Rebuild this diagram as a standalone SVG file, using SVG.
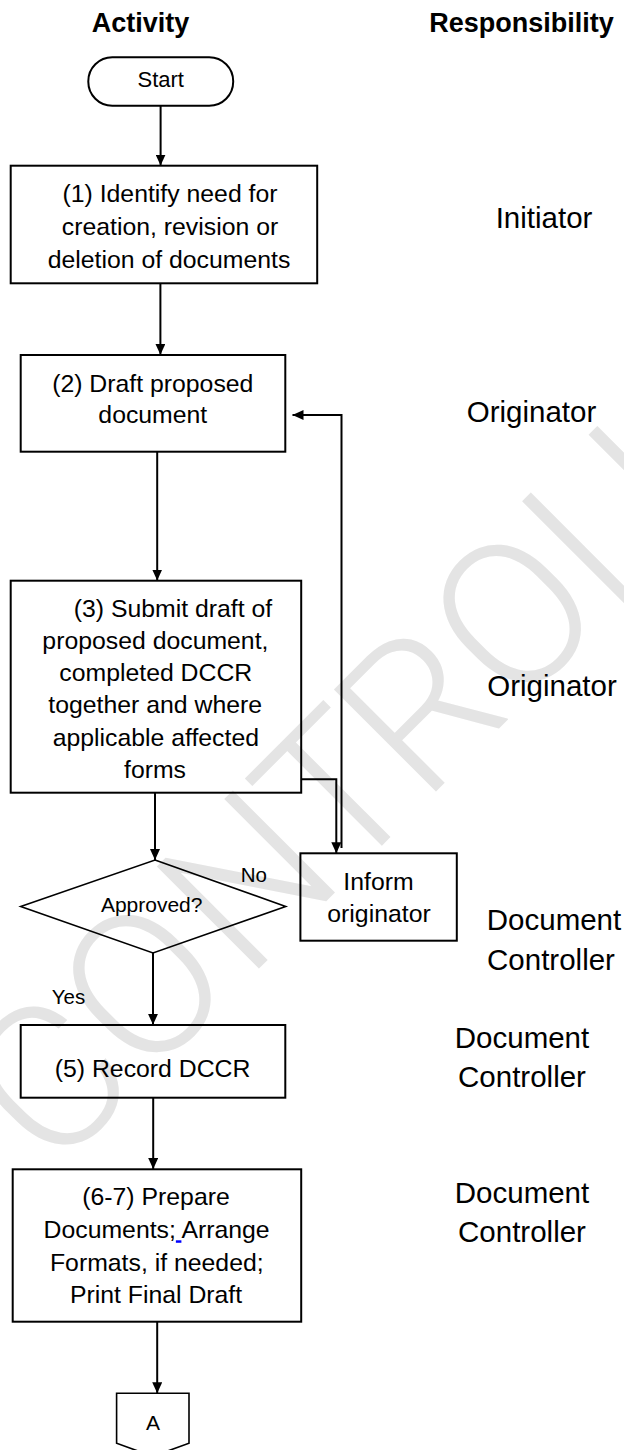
<svg xmlns="http://www.w3.org/2000/svg" width="624" height="1450" viewBox="0 0 624 1450">
<style>
.bx{fill:none;stroke:#000;stroke-width:2}
.t{font-family:"Liberation Sans",Arial,sans-serif;font-size:24.8px;fill:#000;text-anchor:middle}
.r{font-family:"Liberation Sans",Arial,sans-serif;font-size:29.5px;fill:#000;text-anchor:middle}
.h{font-family:"Liberation Sans",Arial,sans-serif;font-size:27px;font-weight:bold;fill:#000;text-anchor:middle}
.s{font-family:"Liberation Sans",Arial,sans-serif;font-size:21px;fill:#000}
.c{fill:none;stroke:#000;stroke-width:2}
.wm{font-family:Roboto,"Open Sans","Liberation Sans",sans-serif;font-weight:300;font-size:203px;fill:#e4e4e4}
</style>
<defs>
<marker id="ah" markerUnits="userSpaceOnUse" markerWidth="12" markerHeight="10" refX="11" refY="5" orient="auto">
<path d="M0,0 L11,5 L0,10 Z" fill="#000"/>
</marker>
</defs>
<rect width="624" height="1450" fill="#fff"/>
<g id="watermark">
<text class="wm" transform="translate(56.8,1170.7) rotate(-45)" x="-6.3 123.6 267.6 405 518.3 647.3 784 878.1 976.8 1090.8" y="0">CONTROLLED</text>
</g>
<g id="headers">
<text class="h" x="140.5" y="32">Activity</text>
<text class="h" x="521.5" y="32">Responsibility</text>
</g>
<g id="start">
<rect class="bx" x="88.3" y="57.3" width="144.9" height="48.4" rx="24" ry="24"/>
<text class="s" x="160.7" y="87.3" text-anchor="middle" style="font-size:22px">Start</text>
</g>
<g id="step1">
<rect class="bx" x="10.7" y="165.7" width="306.5" height="117.6"/>
<text class="t" x="170" y="202">(1) Identify need for</text>
<text class="t" x="170" y="235">creation, revision or</text>
<text class="t" x="169" y="268">deletion of documents</text>
</g>
<g id="step2">
<rect class="bx" x="20.7" y="355" width="264.6" height="96.7"/>
<text class="t" x="152.8" y="391.7">(2) Draft proposed</text>
<text class="t" x="152.8" y="423.3">document</text>
</g>
<g id="step3">
<rect class="bx" x="10.7" y="580.7" width="290.5" height="212"/>
<text class="t" x="173" y="616.5">(3) Submit draft of</text>
<text class="t" x="155.4" y="648.8">proposed document,</text>
<text class="t" x="155.8" y="681">completed DCCR</text>
<text class="t" x="155.2" y="713.3">together and where</text>
<text class="t" x="155.8" y="745.6">applicable affected</text>
<text class="t" x="155" y="778">forms</text>
</g>
<g id="decision">
<polygon points="155,860 285.7,906.5 153,953 20.7,906.5" fill="none" stroke="#000" stroke-width="1.6"/>
<text class="s" x="151.7" y="912" text-anchor="middle">Approved?</text>
<text class="s" x="240.7" y="882" style="font-size:20.5px">No</text>
<text class="s" x="51.7" y="1004" style="font-size:20.5px">Yes</text>
</g>
<g id="inform">
<rect class="bx" x="300.4" y="853.3" width="156.4" height="87.4"/>
<text class="t" x="378.5" y="890">Inform</text>
<text class="t" x="379" y="922">originator</text>
</g>
<g id="step5">
<rect class="bx" x="20.7" y="1025" width="264.6" height="72.7"/>
<text class="t" x="152.6" y="1077">(5) Record DCCR</text>
</g>
<g id="step67">
<rect class="bx" x="12.7" y="1169.3" width="288.5" height="152.4"/>
<text class="t" x="156" y="1205">(6-7) Prepare</text>
<text class="t" x="156.6" y="1238.3">Documents;<tspan fill="#0000ff" text-decoration="underline"> </tspan>Arrange</text>
<text class="t" x="156.8" y="1270.7">Formats, if needed;</text>
<text class="t" x="156" y="1302.7">Print Final Draft</text>
</g>
<g id="connectorA">
<polygon points="116.6,1393.3 189,1393.3 189,1443.3 152.8,1456.3 116.6,1443.3" fill="none" stroke="#000" stroke-width="1.6"/>
<text class="s" x="153" y="1430" text-anchor="middle">A</text>
</g>
<g id="responsibility">
<text class="r" x="544" y="227.5">Initiator</text>
<text class="r" x="531.5" y="421.7">Originator</text>
<text class="r" x="552" y="696">Originator</text>
<text class="r" x="554" y="930">Document</text>
<text class="r" x="551" y="970">Controller</text>
<text class="r" x="522" y="1048">Document</text>
<text class="r" x="522" y="1087">Controller</text>
<text class="r" x="522" y="1203">Document</text>
<text class="r" x="522" y="1242">Controller</text>
</g>
<g id="connectors">
<path class="c" d="M160.6,105.7 V165.5" marker-end="url(#ah)"/>
<path class="c" d="M160.4,283.3 V354.8" marker-end="url(#ah)"/>
<path class="c" d="M157.2,451.7 V580.5" marker-end="url(#ah)"/>
<path class="c" d="M155,792.7 V860" marker-end="url(#ah)"/>
<path class="c" d="M153,953 V1024.8" marker-end="url(#ah)"/>
<path class="c" d="M153.2,1097.7 V1169" marker-end="url(#ah)"/>
<path class="c" d="M157.2,1321.7 V1393.3" marker-end="url(#ah)"/>
<path class="c" d="M301.2,779.3 H336.3 V853.3" marker-end="url(#ah)"/>
<path class="c" d="M341.5,848 V415 H292.5" marker-end="url(#ah)"/>
</g>
</svg>
